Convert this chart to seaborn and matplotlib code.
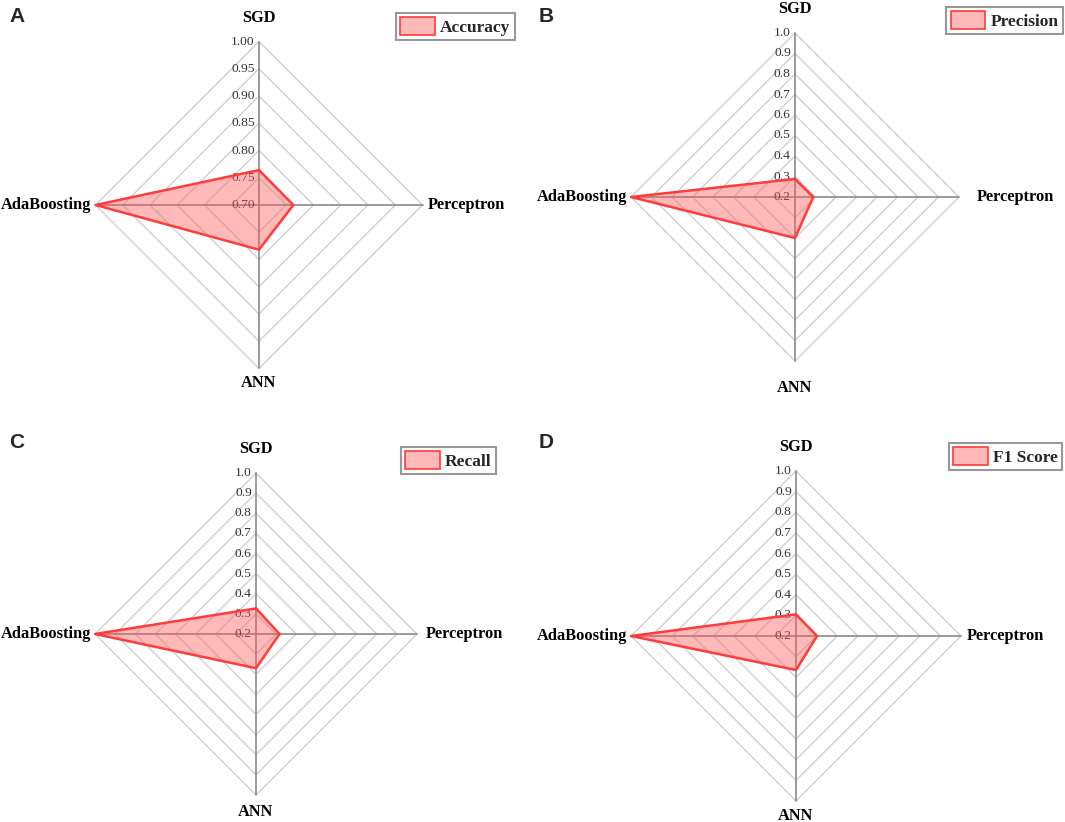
import numpy as np
import pandas as pd
import matplotlib
matplotlib.use('Agg')
import matplotlib.pyplot as plt
import seaborn as sns
from matplotlib.patches import Patch
from matplotlib.colors import to_rgba

# ---------------- data ----------------
models = ['SGD', 'Perceptron', 'ANN', 'AdaBoosting']
accuracy = [0.764, 0.763, 0.782, 1.00]
precision = [0.288, 0.289, 0.400, 1.0]
recall = [0.327, 0.317, 0.370, 1.0]
f1_score = [0.305, 0.302, 0.365, 1.0]
metric_names = ['Accuracy', 'Precision', 'Recall', 'F1 Score']
panel_letters = ['A', 'B', 'C', 'D']
acc_ticks = [0.70, 0.75, 0.80, 0.85, 0.90, 0.95, 1.00]
acc_tick_labels = ['0.70', '0.75', '0.80', '0.85', '0.90', '0.95', '1.00']
other_ticks = [0.2, 0.3, 0.4, 0.5, 0.6, 0.7, 0.8, 0.9, 1.0]
other_tick_labels = ['0.2', '0.3', '0.4', '0.5', '0.6', '0.7', '0.8', '0.9', '1.0']

series = [accuracy, precision, recall, f1_score]
ticks = [acc_ticks, other_ticks, other_ticks, other_ticks]
tick_labels = [acc_tick_labels, other_tick_labels, other_tick_labels, other_tick_labels]

# ---------------- style ----------------
sns.set_theme(style='white')
plt.rcParams['font.family'] = ['Liberation Serif', 'DejaVu Serif']

W, H = 1065, 822
fig = plt.figure(figsize=(W / 100, H / 100), dpi=100)
fig.patch.set_facecolor('white')

# panel geometry in pixels: centre x, centre y (from top), radius
geom = [(259, 205, 163.5), (795, 197, 164), (256, 634, 161), (796, 636, 165)]
ann_offset_px = [14, 27, 17, 15]
perc_gap_px = [5, 18, 9, 6]
legend_anchor_px = [(515, 13), (1063, 7), (496, 447), (1062, 443)]
letter_px = [(17, 17), (546, 17), (17, 443), (546, 443)]

fill_rgba = to_rgba('#ff5a5a', 0.42)
edge_col = '#ff3b3b'
grid_col = '#d0d0d0'
spoke_col = '#8a8a8a'
PT = 0.72

angles = np.array([0, np.pi / 2, np.pi, 3 * np.pi / 2])

for i in range(4):
    cx, cy, r = geom[i]
    ax = fig.add_axes([(cx - r) / W, (H - cy - r) / H, 2 * r / W, 2 * r / H],
                      projection='polar')
    ax.set_theta_zero_location('N')
    ax.set_theta_direction(-1)
    ax.set_facecolor('none')
    rmin, rmax = ticks[i][0], ticks[i][-1]
    vals = series[i]

    th_closed = np.append(angles, angles[0])
    # diamond grid rings
    for lv in ticks[i][1:]:
        ax.plot(th_closed, [lv] * 5, color=grid_col, lw=1.0, zorder=1, clip_on=False)
    # spokes
    for th in angles:
        ax.plot([th, th], [rmin, rmax], color=spoke_col, lw=1.2, zorder=2, clip_on=False)

    # filled area + outline
    v_closed = np.append(vals, vals[0])
    ax.fill(th_closed, v_closed, facecolor=fill_rgba, edgecolor='none', zorder=3, clip_on=False)
    df = pd.DataFrame({'theta': th_closed, 'value': v_closed})
    sns.lineplot(data=df, x='theta', y='value', sort=False, estimator=None,
                 color=edge_col, lw=1.8, ax=ax, zorder=4)
    for ln in ax.lines:
        ln.set_clip_on(False)

    ax.set_ylim(rmin, rmax)
    ax.grid(False)
    ax.spines['polar'].set_visible(False)
    ax.set_xticks([])
    ax.set_yticks([])
    ax.set_xlabel('')
    ax.set_ylabel('')

    # radial tick labels along SGD axis
    for lv, lab in zip(ticks[i], tick_labels[i]):
        ax.annotate(lab, xy=(0, lv), xytext=(-3, 0), textcoords='offset points',
                    ha='right', va='center', fontsize=9.7, color='#333333',
                    zorder=2.5, annotation_clip=False)

    # category labels
    lab_kw = dict(textcoords='offset points', fontsize=11.8, fontweight='bold',
                  color='black', annotation_clip=False)
    ax.annotate(models[0], xy=(angles[0], rmax), xytext=(0, 24 * PT),
                ha='center', va='center', **lab_kw)
    ax.annotate(models[1], xy=(angles[1], rmax), xytext=(perc_gap_px[i] * PT, 0),
                ha='left', va='center', **lab_kw)
    ax.annotate(models[2], xy=(angles[2], rmax), xytext=(0, -ann_offset_px[i] * PT),
                ha='center', va='center', **lab_kw)
    ax.annotate(models[3], xy=(angles[3], rmax), xytext=(-4 * PT, 0),
                ha='right', va='center', **lab_kw)

    # legend
    lx, ly = legend_anchor_px[i]
    handle = Patch(facecolor=fill_rgba, edgecolor=edge_col, lw=1.2, label=metric_names[i])
    leg = ax.legend(handles=[handle], loc='upper right',
                    bbox_to_anchor=(lx / W, 1 - ly / H), bbox_transform=fig.transFigure,
                    frameon=True, fancybox=False, borderpad=0.25, borderaxespad=0,
                    handlelength=2.0, handleheight=1.15, handletextpad=0.3,
                    prop=dict(family='Liberation Serif', weight='bold', size=12.5))
    leg.get_frame().set_edgecolor('#7f7f7f')
    leg.get_frame().set_linewidth(1.5)

    # panel letter
    px, py = letter_px[i]
    fig.text(px / W, 1 - py / H, panel_letters[i], fontsize=15, fontweight='bold',
             family='Liberation Sans', ha='center', va='center')

fig.savefig('out.png', dpi=100, facecolor='white')
